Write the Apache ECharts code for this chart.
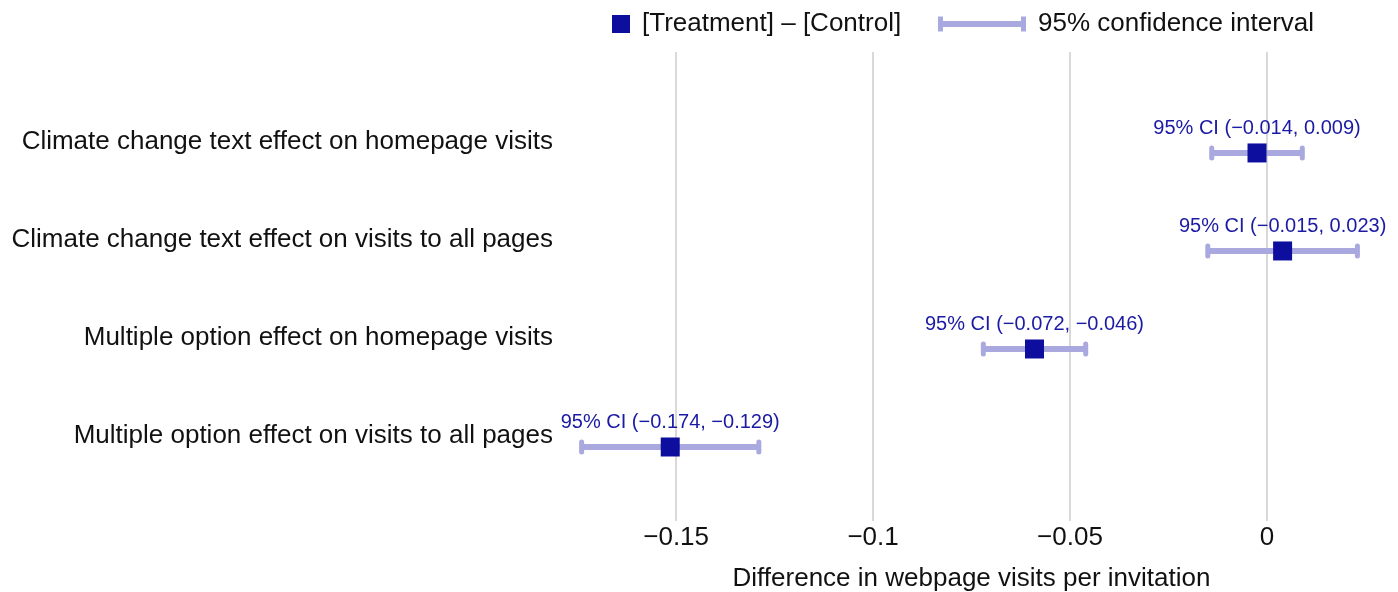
<!DOCTYPE html>
<html>
<head>
<meta charset="utf-8">
<style>
  html, body { margin: 0; padding: 0; background: #ffffff; }
  #chart { width: 1398px; height: 592px; }
</style>
<script src="https://cdn.jsdelivr.net/npm/echarts@6/dist/echarts.min.js"></script>
</head>
<body>
<div id="chart"></div>
<script>
// Effect estimates with 95% confidence intervals
const categories = [
  'Climate change text effect on homepage visits',
  'Climate change text effect on visits to all pages',
  'Multiple option effect on homepage visits',
  'Multiple option effect on visits to all pages'
];
const estimates = [-0.0025, 0.004, -0.059, -0.1515];
const ciLow = [-0.014, -0.015, -0.072, -0.174];
const ciHigh = [0.009, 0.023, -0.046, -0.129];
const xTicks = [-0.15, -0.1, -0.05, 0];

const FONT = '"Liberation Sans", Arial, Helvetica, sans-serif';
const CI_COLOR = '#a9a9df';
const POINT_COLOR = '#0e0e9e';
const LABEL_COLOR = '#1a1aa4';

// first category at the top
const rowPos = categories.map((_, i) => categories.length - i);

function fmtSigned(v) {
  return (v < 0 ? '\u2212' : '') + Math.abs(v).toFixed(3);
}
function fmtTick(v) {
  if (v === 0) return '0';
  return (v < 0 ? '\u2212' : '') + String(Math.abs(v));
}

function renderCI(params, api) {
  const lo = api.coord([api.value(0), api.value(2)]);
  const hi = api.coord([api.value(1), api.value(2)]);
  const style = { fill: CI_COLOR };
  return {
    type: 'group',
    children: [
      { type: 'rect', shape: { x: lo[0], y: lo[1] - 3, width: hi[0] - lo[0], height: 6 }, style },
      { type: 'rect', shape: { x: lo[0] - 2.5, y: lo[1] - 7.5, width: 5, height: 15, r: 2.5 }, style },
      { type: 'rect', shape: { x: hi[0] - 2.5, y: hi[1] - 7.5, width: 5, height: 15, r: 2.5 }, style }
    ]
  };
}

const chart = echarts.init(document.getElementById('chart'), null, { renderer: 'canvas' });

chart.setOption({
  animation: false,
  backgroundColor: '#ffffff',
  textStyle: { fontFamily: FONT },
  legend: [
    {
      data: ['[Treatment] \u2013 [Control]'],
      left: 612, top: 11, padding: 0,
      itemWidth: 18, itemHeight: 18, icon: 'rect',
      selectedMode: false,
      textStyle: { fontSize: 26, color: '#111111', fontFamily: FONT, padding: [0, 0, 0, 7] }
    },
    {
      data: [{ name: '95% confidence interval', icon: 'path://M0,0h5v15h-5z M2,4.5h84v6h-84z M83,0h5v15h-5z' }],
      left: 938, top: 11, padding: 0,
      itemWidth: 88, itemHeight: 15,
      selectedMode: false,
      textStyle: { fontSize: 26, color: '#111111', fontFamily: FONT, padding: [0, 0, 0, 7] }
    }
  ],
  grid: { left: 558, right: 13, top: 52, bottom: 71, containLabel: false, outerBoundsMode: 'none' },
  xAxis: {
    type: 'value',
    min: -0.18, max: 0.03,
    name: 'Difference in webpage visits per invitation',
    nameLocation: 'middle',
    nameGap: 45,
    nameTextStyle: { fontSize: 26, color: '#111111', fontFamily: FONT },
    axisLine: { show: false },
    axisTick: { show: false, customValues: xTicks },
    axisLabel: { customValues: xTicks, formatter: fmtTick, fontSize: 26, color: '#111111', margin: 4, fontFamily: FONT },
    splitLine: { show: true, lineStyle: { color: '#d9d9d9', width: 2 } }
  },
  yAxis: {
    type: 'value',
    min: 0.245, max: 5.03,
    axisLine: { show: false },
    axisTick: { show: false, customValues: rowPos },
    splitLine: { show: false },
    axisLabel: {
      customValues: rowPos,
      formatter: v => categories[categories.length - v],
      fontSize: 26, color: '#111111', margin: 5, fontFamily: FONT,
      verticalAlign: 'bottom', lineHeight: 22
    }
  },
  series: [
    {
      name: '95% confidence interval',
      type: 'custom',
      renderItem: renderCI,
      itemStyle: { color: CI_COLOR },
      encode: { x: [0, 1], y: 2 },
      data: ciLow.map((lo, i) => [lo, ciHigh[i], rowPos[i]]),
      z: 2,
      silent: true
    },
    {
      name: '[Treatment] \u2013 [Control]',
      type: 'scatter',
      symbol: 'rect',
      symbolSize: 19,
      itemStyle: { color: POINT_COLOR, opacity: 1 },
      data: estimates.map((e, i) => [e, rowPos[i], ciLow[i], ciHigh[i]]),
      label: {
        show: true,
        position: 'top',
        distance: 5,
        color: LABEL_COLOR,
        fontSize: 20,
        fontFamily: FONT,
        formatter: p => '95% CI (' + fmtSigned(p.value[2]) + ', ' + fmtSigned(p.value[3]) + ')'
      },
      z: 3,
      silent: true
    }
  ]
});
</script>
</body>
</html>
